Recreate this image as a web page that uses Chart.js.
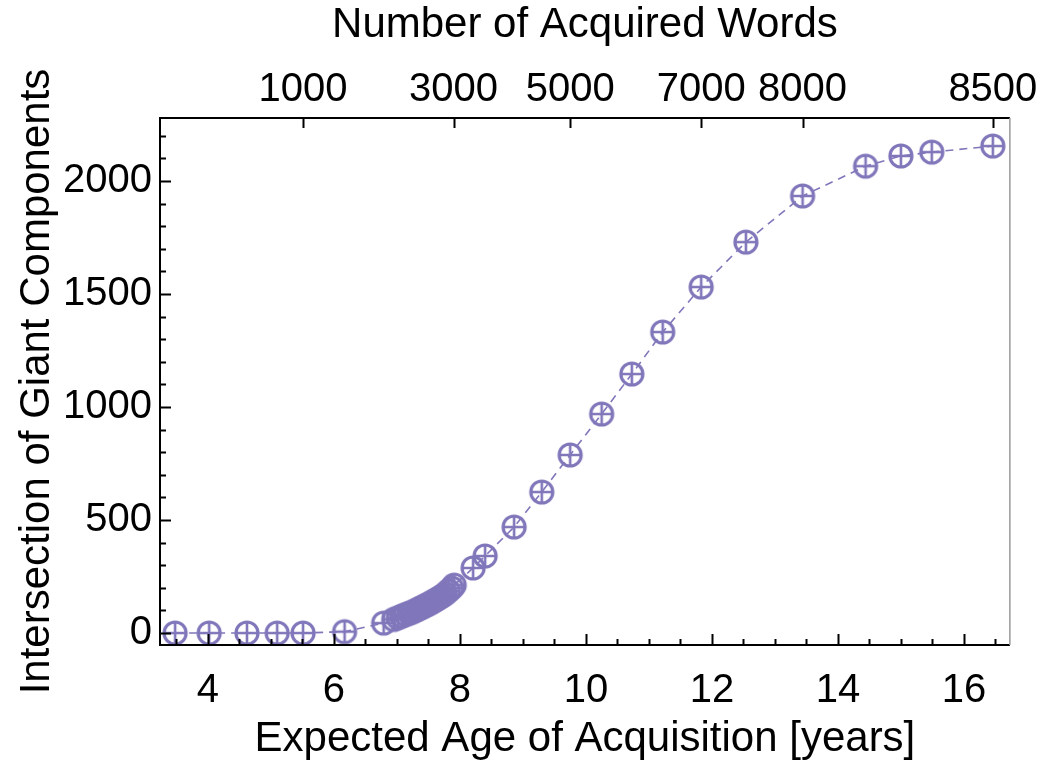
<!DOCTYPE html>
<html>
<head>
<meta charset="utf-8">
<script src="https://cdn.jsdelivr.net/npm/chart.js@4.4.1/dist/chart.umd.min.js"></script>
<style>
  body { margin: 0; background: #fff; }
  #wrap { width: 1042px; height: 767px; }
</style>
</head>
<body>
<div id="wrap"><canvas id="grafica"></canvas></div>
<script>
// expected age of acquisition [years]
const ages = [3.48, 4.02, 4.62, 5.10, 5.51, 6.17,
  6.79, 6.95, 7.02, 7.08, 7.14, 7.20, 7.26, 7.32, 7.37, 7.42, 7.47, 7.52, 7.57, 7.62,
  7.67, 7.72, 7.77, 7.82, 7.87, 7.91,
  8.21, 8.40, 8.86, 9.30, 9.75, 10.25, 10.73, 11.22, 11.83, 12.54, 13.44, 14.44, 15.00, 15.49, 16.46];
// intersection of giant components
const values = [0, 0, 0, 0, 0, 6,
  44, 60, 68, 75, 82, 88, 95, 103, 110, 117, 124, 131, 139, 147,
  155, 164, 174, 186, 199, 212,
  288, 341, 469, 624, 788, 969, 1146, 1332, 1531, 1730, 1934, 2066, 2111, 2128, 2155];

const xTicks = [4, 6, 8, 10, 12, 14, 16];
const yTicks = [0, 500, 1000, 1500, 2000];
// top axis: number of acquired words, placed at the matching age
const topAges = [5.51, 7.90, 9.75, 11.83, 13.44, 16.46];
const topLabels = ["1000", "3000", "5000", "7000", "8000", "8500"];

const COLOR = "rgb(128,119,187)";
const FAMILY = "'Liberation Sans', Arial, sans-serif";
const FONT = { family: FAMILY, size: 40, lineHeight: 1.2 };
const TITLE_FONT = { family: FAMILY, size: 42, lineHeight: 1.2 };

// marker: open circle with a plus inside
function marcador() {
  const c = document.createElement("canvas");
  c.width = 28; c.height = 28;
  const g = c.getContext("2d");
  g.strokeStyle = COLOR;
  g.lineWidth = 3.2;
  g.beginPath(); g.arc(14, 14, 11, 0, Math.PI * 2); g.stroke();
  g.lineWidth = 2.6;
  g.beginPath();
  g.moveTo(3, 14); g.lineTo(25, 14);
  g.moveTo(14, 3); g.lineTo(14, 25);
  g.stroke();
  return c;
}

// frame + inward tick marks
const marco = {
  id: "marco",
  afterDatasetsDraw(chart) {
    const { ctx, chartArea: a, scales } = chart;
    const x = scales.x, y = scales.y, t = scales.top;
    ctx.save();
    ctx.strokeStyle = "#000";
    ctx.lineWidth = 2;
    ctx.beginPath();
    ctx.moveTo(a.right, a.top); ctx.lineTo(a.left, a.top);
    ctx.lineTo(a.left, a.bottom); ctx.lineTo(a.right, a.bottom);
    ctx.stroke();
    ctx.strokeStyle = "#999";
    ctx.lineWidth = 1.5;
    ctx.beginPath(); ctx.moveTo(a.right, a.top); ctx.lineTo(a.right, a.bottom); ctx.stroke();

    ctx.strokeStyle = "#000";
    ctx.lineWidth = 2;
    ctx.beginPath();
    for (let v = 3.5; v <= x.max; v += 0.5) {
      const px = Math.round(x.getPixelForValue(v)) + 0.5;
      const len = (v % 2 === 0) ? 11 : 6;
      ctx.moveTo(px, a.bottom); ctx.lineTo(px, a.bottom - len);
    }
    for (let v = 0; v <= y.max; v += 100) {
      const py = Math.round(y.getPixelForValue(v)) + 0.5;
      const len = (v % 500 === 0) ? 11 : 6;
      ctx.moveTo(a.left, py); ctx.lineTo(a.left + len, py);
    }
    topAges.forEach(v => {
      const px = Math.round(t.getPixelForValue(v)) + 0.5;
      ctx.moveTo(px, a.top); ctx.lineTo(px, a.top + 10);
    });
    ctx.stroke();
    ctx.restore();
  }
};

new Chart(document.getElementById("grafica"), {
  type: "scatter",
  data: {
    datasets: [{
      data: ages.map((a, i) => ({ x: a, y: values[i] })),
      showLine: true,
      borderColor: COLOR,
      borderWidth: 1.6,
      borderDash: [8, 6],
      tension: 0,
      pointStyle: marcador(),
      pointRadius: 12,
      pointHoverRadius: 12,
      clip: false
    }]
  },
  options: {
    responsive: true,
    maintainAspectRatio: false,
    animation: false,
    layout: { padding: { left: 0, right: 32, top: 0, bottom: 0 } },
    plugins: { legend: { display: false }, tooltip: { enabled: false } },
    scales: {
      x: {
        type: "linear", position: "bottom", min: 3.24, max: 16.73,
        afterBuildTicks: s => { s.ticks = xTicks.map(v => ({ value: v })); },
        afterFit: s => { s.height = 122; },
        grid: { display: false, drawTicks: false },
        border: { display: false },
        ticks: { color: "#000", font: FONT, padding: 22, autoSkip: false, maxRotation: 0,
          callback: v => String(v) },
        title: { display: true, text: "Expected Age of Acquisition [years]", color: "#000", font: TITLE_FONT, padding: { top: 0, bottom: 2 } }
      },
      top: {
        type: "linear", position: "top", min: 3.24, max: 16.73,
        afterBuildTicks: s => { s.ticks = topAges.map(v => ({ value: v })); },
        afterFit: s => { s.height = 118; },
        grid: { display: false, drawTicks: false },
        border: { display: false },
        ticks: { color: "#000", font: FONT, padding: 4, autoSkip: false, maxRotation: 0,
          callback: (v, i) => topLabels[i] },
        title: { display: true, text: "Number of Acquired Words", color: "#000", font: TITLE_FONT, padding: { top: 0, bottom: 0 } }
      },
      y: {
        type: "linear", min: -53, max: 2279,
        afterBuildTicks: s => { s.ticks = yTicks.map(v => ({ value: v })); },
        afterFit: s => { s.width = 160; },
        grid: { display: false, drawTicks: false },
        border: { display: false },
        ticks: { color: "#000", font: FONT, padding: 8, callback: v => String(v) },
        title: { display: true, text: "Intersection of Giant Components", color: "#000", font: TITLE_FONT, padding: { top: 12, bottom: 0 } }
      }
    }
  },
  plugins: [marco]
});
</script>
</body>
</html>
